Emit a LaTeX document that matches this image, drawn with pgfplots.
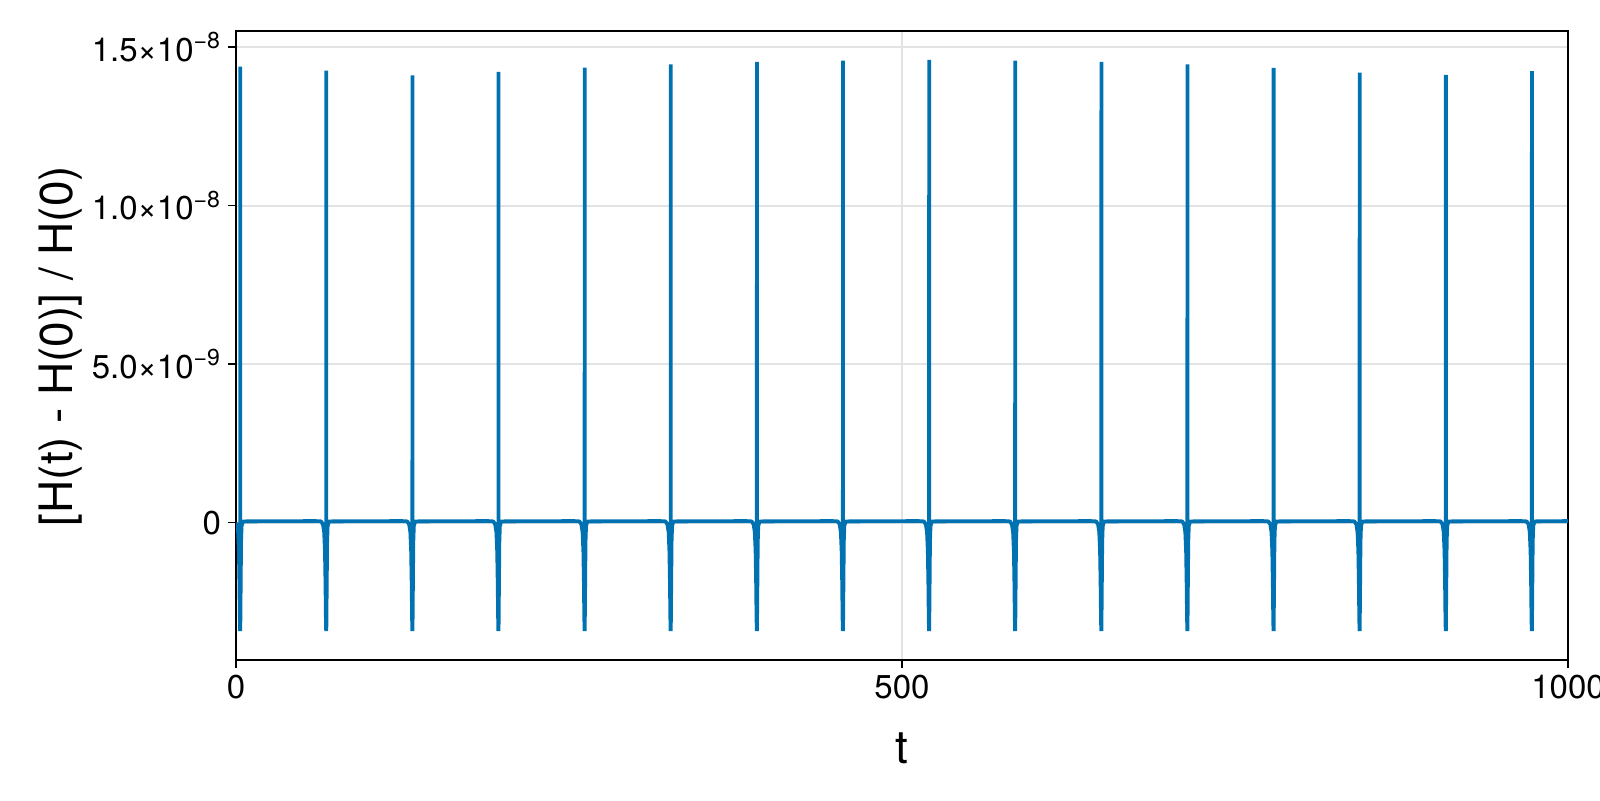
\documentclass[border=0pt]{standalone}
\usepackage{pgfplots}
\pgfplotsset{compat=1.18}
\usepackage{fontspec}
\setmainfont{TeX Gyre Heros}
\definecolor{lineblue}{HTML}{0072B2}
\definecolor{gridgray}{HTML}{E3E3E3}
\begin{document}
\begin{tikzpicture}
\useasboundingbox (-118pt,-70pt) rectangle (682pt,330pt);
\begin{axis}[
    scale only axis, width=666pt, height=314.3pt,
    at={(0,0)}, anchor=south west,
    xmin=0, xmax=1000, ymin=-4.33e-9, ymax=1.549e-8,
    xtick={0,500,1000}, xticklabels={0,500,1000},
    ytick={0,5e-9,1e-8,1.5e-8},
    yticklabels={0,5.0×10\textsuperscript{−9},1.0×10\textsuperscript{−8},1.5×10\textsuperscript{−8}},
    scaled ticks=false,
    tick align=outside, major tick length=4pt,
    xtick pos=bottom, ytick pos=left,
    tick style={black, line width=0.8pt},
    axis line style={line width=1pt},
    grid=major, major grid style={gridgray, line width=1pt},
    ticklabel style={font=\fontsize{16.5}{19}\selectfont},
]
\addplot[lineblue, line width=1.9pt, line join=bevel] coordinates {
(0,0) (1.6,-3e-10) (2.2,-9e-10) (2.6,-1.9e-9) (2.9,-3.0e-9) (3.1,-3.42e-9) (3.2,1.438e-8) (3.2,-3.42e-9) (3.5,-2.0e-9) (3.8,-6e-10) (4.2,-1e-10) (5.2,4e-11)
(59.8,5e-11) (63.8,4e-11) (65.3,-5e-11) (66.2,-3e-10) (66.8,-9e-10) (67.2,-1.9e-9) (67.5,-3.0e-9) (67.7,-3.42e-9) (67.8,1.425e-8) (67.8,-3.42e-9) (68.1,-2.0e-9) (68.4,-6e-10) (68.8,-1e-10) (69.8,4e-11)
(124.5,5e-11) (128.5,4e-11) (130.0,-5e-11) (130.9,-3e-10) (131.5,-9e-10) (131.9,-1.9e-9) (132.2,-3.0e-9) (132.4,-3.42e-9) (132.5,1.410e-8) (132.5,-3.42e-9) (132.8,-2.0e-9) (133.1,-6e-10) (133.5,-1e-10) (134.5,4e-11)
(189.1,5e-11) (193.1,4e-11) (194.6,-5e-11) (195.5,-3e-10) (196.1,-9e-10) (196.5,-1.9e-9) (196.8,-3.0e-9) (197.0,-3.42e-9) (197.1,1.421e-8) (197.1,-3.42e-9) (197.4,-2.0e-9) (197.7,-6e-10) (198.1,-1e-10) (199.1,4e-11)
(253.8,5e-11) (257.8,4e-11) (259.3,-5e-11) (260.2,-3e-10) (260.8,-9e-10) (261.2,-1.9e-9) (261.5,-3.0e-9) (261.7,-3.42e-9) (261.8,1.435e-8) (261.8,-3.42e-9) (262.1,-2.0e-9) (262.4,-6e-10) (262.8,-1e-10) (263.8,4e-11)
(318.4,5e-11) (322.4,4e-11) (323.9,-5e-11) (324.8,-3e-10) (325.4,-9e-10) (325.8,-1.9e-9) (326.1,-3.0e-9) (326.3,-3.42e-9) (326.4,1.445e-8) (326.4,-3.42e-9) (326.7,-2.0e-9) (327.0,-6e-10) (327.4,-1e-10) (328.4,4e-11)
(383.1,5e-11) (387.1,4e-11) (388.6,-5e-11) (389.5,-3e-10) (390.1,-9e-10) (390.5,-1.9e-9) (390.8,-3.0e-9) (391.0,-3.42e-9) (391.1,1.453e-8) (391.1,-3.42e-9) (391.4,-2.0e-9) (391.7,-6e-10) (392.1,-1e-10) (393.1,4e-11)
(447.7,5e-11) (451.7,4e-11) (453.2,-5e-11) (454.1,-3e-10) (454.7,-9e-10) (455.1,-1.9e-9) (455.4,-3.0e-9) (455.6,-3.42e-9) (455.7,1.457e-8) (455.7,-3.42e-9) (456.0,-2.0e-9) (456.3,-6e-10) (456.7,-1e-10) (457.7,4e-11)
(512.4,5e-11) (516.4,4e-11) (517.9,-5e-11) (518.8,-3e-10) (519.4,-9e-10) (519.8,-1.9e-9) (520.1,-3.0e-9) (520.3,-3.42e-9) (520.4,1.459e-8) (520.4,-3.42e-9) (520.7,-2.0e-9) (521.0,-6e-10) (521.4,-1e-10) (522.4,4e-11)
(577.0,5e-11) (581.0,4e-11) (582.5,-5e-11) (583.4,-3e-10) (584.0,-9e-10) (584.4,-1.9e-9) (584.7,-3.0e-9) (584.9,-3.42e-9) (585.0,1.457e-8) (585.0,-3.42e-9) (585.3,-2.0e-9) (585.6,-6e-10) (586.0,-1e-10) (587.0,4e-11)
(641.7,5e-11) (645.7,4e-11) (647.2,-5e-11) (648.1,-3e-10) (648.7,-9e-10) (649.1,-1.9e-9) (649.4,-3.0e-9) (649.6,-3.42e-9) (649.7,1.453e-8) (649.7,-3.42e-9) (650.0,-2.0e-9) (650.3,-6e-10) (650.7,-1e-10) (651.7,4e-11)
(706.3,5e-11) (710.3,4e-11) (711.8,-5e-11) (712.7,-3e-10) (713.3,-9e-10) (713.7,-1.9e-9) (714.0,-3.0e-9) (714.2,-3.42e-9) (714.3,1.445e-8) (714.3,-3.42e-9) (714.6,-2.0e-9) (714.9,-6e-10) (715.3,-1e-10) (716.3,4e-11)
(771.0,5e-11) (775.0,4e-11) (776.5,-5e-11) (777.4,-3e-10) (778.0,-9e-10) (778.4,-1.9e-9) (778.7,-3.0e-9) (778.9,-3.42e-9) (779.0,1.434e-8) (779.0,-3.42e-9) (779.3,-2.0e-9) (779.6,-6e-10) (780.0,-1e-10) (781.0,4e-11)
(835.6,5e-11) (839.6,4e-11) (841.1,-5e-11) (842.0,-3e-10) (842.6,-9e-10) (843.0,-1.9e-9) (843.3,-3.0e-9) (843.5,-3.42e-9) (843.6,1.419e-8) (843.6,-3.42e-9) (843.9,-2.0e-9) (844.2,-6e-10) (844.6,-1e-10) (845.6,4e-11)
(900.3,5e-11) (904.3,4e-11) (905.8,-5e-11) (906.7,-3e-10) (907.3,-9e-10) (907.7,-1.9e-9) (908.0,-3.0e-9) (908.2,-3.42e-9) (908.3,1.412e-8) (908.3,-3.42e-9) (908.6,-2.0e-9) (908.9,-6e-10) (909.3,-1e-10) (910.3,4e-11)
(964.9,5e-11) (968.9,4e-11) (970.4,-5e-11) (971.3,-3e-10) (971.9,-9e-10) (972.3,-1.9e-9) (972.6,-3.0e-9) (972.8,-3.42e-9) (972.9,1.424e-8) (972.9,-3.42e-9) (973.2,-2.0e-9) (973.5,-6e-10) (973.9,-1e-10) (974.9,4e-11)
(1000,5e-11)
};
\end{axis}
\node[rotate=90, font=\fontsize{23}{26}\selectfont] at (-87.5pt,157pt) {[H(t) - H(0)] / H(0)};
\node[font=\fontsize{23}{26}\selectfont] at (333pt,-44pt) {t};
\end{tikzpicture}
\end{document}
